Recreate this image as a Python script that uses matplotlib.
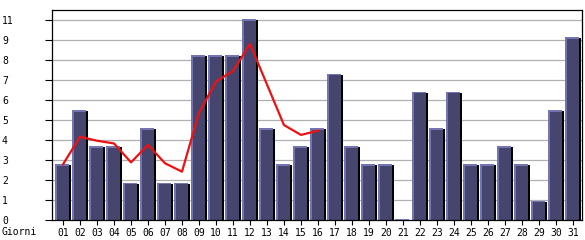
import matplotlib
matplotlib.use("Agg")
import matplotlib.pyplot as plt
import numpy as np

days = ["01", "02", "03", "04", "05", "06", "07", "08", "09", "10",
        "11", "12", "13", "14", "15", "16", "17", "18", "19", "20",
        "21", "22", "23", "24", "25", "26", "27", "28", "29", "30", "31"]
visits = [3, 6, 4, 4, 2, 5, 2, 2, 9, 9, 9, 11, 5, 3, 4, 5, 8, 4, 3, 3,
          0, 7, 5, 7, 3, 3, 4, 3, 1, 6, 10]
trend = [3.06, 4.58, 4.36, 4.21, 3.17, 4.13, 3.12, 2.66, 5.9, 7.61,
         8.2, 9.68, 7.45, 5.22, 4.68, 4.91]
ytick_labels = ["0", "1", "2", "3", "4", "5", "6", "7", "8", "9", "11"]
y_max = 11
x_title = "Giorni"

W, H = 585, 240
fig = plt.figure(figsize=(W / 100, H / 100), dpi=100)
fig.patch.set_facecolor("white")
L, R, B, T = 52, 582, 220, 10
ax = fig.add_axes([L / W, 1 - B / H, (R - L) / W, (B - T) / H])

n = len(days)
x = np.arange(1, n + 1)
px = 1 / 17.0                       # one pixel in x data units
py = y_max / 200.0                  # one pixel in y data units

ax.set_xlim(1 - 11 * px, n + 9 * px)
ax.set_ylim(0, y_max + 10 * py)

yt = np.linspace(0, y_max, len(ytick_labels))
for v in yt[1:]:
    ax.axhline(v, color="#b0b0b0", lw=0.9, zorder=1)

body = "#45456d"
light = "#7474b2"
vals = np.array(visits, dtype=float)
# shadow
ax.bar(x + 6 * px, vals, width=2 * px, align="edge", color="black", lw=0, zorder=2)
# body
ax.bar(x - 6 * px, vals, width=12 * px, align="edge", color=body, lw=0, zorder=2)
# left highlight
ax.bar(x - 8 * px, vals, width=2 * px, align="edge", color=light, lw=0, zorder=2)
# top highlight
ax.bar(x - 8 * px, np.full(n, 1.6 * py), bottom=vals - 0.6 * py, width=14 * px,
       align="edge", color=light, lw=0, zorder=3)

ax.plot(x[:len(trend)], trend, color="#ee1111", lw=1.6, zorder=4,
        solid_joinstyle="round")

font = dict(family="DejaVu Sans Mono", size=7)
ax.set_xticks(x)
ax.set_xticklabels(days, **font)
ax.set_yticks(yt)
ax.set_yticklabels(ytick_labels, ha="left", **font)
ax.tick_params(axis="x", length=3.6, width=0.8, pad=2, colors="black")
ax.tick_params(axis="y", length=5, width=0.8, pad=31, colors="black")
for s in ax.spines.values():
    s.set_color("black")
    s.set_linewidth(0.9)

fig.text(2 / W, 1 - 227 / H, x_title, ha="left", va="top", **font)

fig.savefig("out.png", dpi=100)
